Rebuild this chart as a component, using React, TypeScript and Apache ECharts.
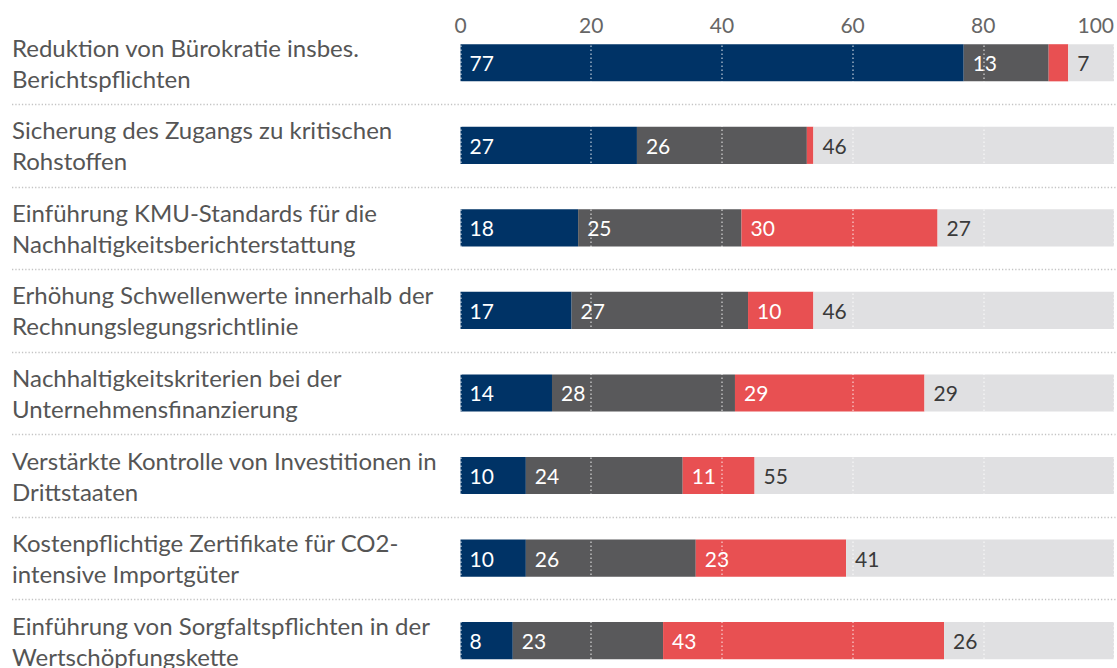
import React, { useEffect, useRef } from "react";
import * as echarts from "echarts";

const categories = [
  "Reduktion von Bürokratie insbes.\nBerichtspflichten",
  "Sicherung des Zugangs zu kritischen\nRohstoffen",
  "Einführung KMU-Standards für die\nNachhaltigkeitsberichterstattung",
  "Erhöhung Schwellenwerte innerhalb der\nRechnungslegungsrichtlinie",
  "Nachhaltigkeitskriterien bei der\nUnternehmensfinanzierung",
  "Verstärkte Kontrolle von Investitionen in\nDrittstaaten",
  "Kostenpflichtige Zertifikate für CO2-\nintensive Importgüter",
  "Einführung von Sorgfaltspflichten in der\nWertschöpfungskette",
];

const seriesA = [77, 27, 18, 17, 14, 10, 10, 8];
const seriesB = [13, 26, 25, 27, 28, 24, 26, 23];
const seriesC = [3, 1, 30, 10, 29, 11, 23, 43];
const seriesD = [7, 46, 27, 46, 29, 55, 41, 26];

const seriesNames = ["Gruppe 1", "Gruppe 2", "Gruppe 3", "Gruppe 4"];
const seriesValues = [seriesA, seriesB, seriesC, seriesD];
const seriesColors = ["#003366", "#59595b", "#e85052", "#e0e0e2"];
const labelColors = ["#ffffff", "#ffffff", "#ffffff", "#3a3a3a"];

const xTicks = { min: 0, max: 100, interval: 20 };

const FONT = "Lato, 'Source Sans Pro', sans-serif";

export default function App() {
  const ref = useRef<HTMLDivElement>(null);

  useEffect(() => {
    if (!ref.current) return;
    const chart = echarts.init(ref.current, undefined, { renderer: "svg" });

    const barSeries = seriesValues.map((vals, i) => ({
      name: seriesNames[i],
      type: "bar",
      stack: "total",
      barWidth: "45%",
      data: vals,
      itemStyle: { color: seriesColors[i] },
      z: 2,
      label: {
        show: true,
        position: "insideLeft",
        distance: 9,
        color: labelColors[i],
        fontFamily: FONT,
        fontSize: 21,
        formatter: (p: any) => (p.value >= 5 ? String(p.value) : ""),
      },
    }));

    const separatorSeries = {
      type: "custom",
      z: 1,
      silent: true,
      clip: false,
      data: categories.slice(0, -1).map((_, i) => [0, i]),
      renderItem: (params: any, api: any) => {
        const idx = api.value(1);
        const c = api.coord([0, idx]);
        const band = api.size([0, 1])[1];
        const y = Math.round(c[1] + band / 2) + 0.5;
        return {
          type: "line",
          shape: { x1: 12, y1: y, x2: 1117, y2: y },
          style: { stroke: "#c4c4c4", lineWidth: 1.3, lineDash: [1.3, 2] },
        };
      },
    };

    chart.setOption({
      animation: false,
      textStyle: { fontFamily: FONT },
      grid: { top: 21.5, left: 460.5, right: 0.5, height: 660.4, containLabel: false },
      xAxis: {
        type: "value",
        position: "top",
        min: xTicks.min,
        max: xTicks.max,
        interval: xTicks.interval,
        z: 5,
        axisLine: { show: false },
        axisTick: { show: false },
        splitLine: {
          show: true,
          lineStyle: { color: "rgba(255,255,255,0.6)", type: [1.5, 2.5], width: 1.5 },
        },
        axisLabel: {
          color: "#666666",
          fontFamily: FONT,
          fontSize: 21,
          margin: -3,
          verticalAlign: "middle",
          alignMaxLabel: "right",
        },
      },
      yAxis: {
        type: "category",
        inverse: true,
        data: categories,
        axisLine: { show: false },
        axisTick: { show: false },
        splitLine: { show: false },
        axisLabel: {
          interval: 0,
          align: "left",
          margin: 448.5,
          color: "#555555",
          fontFamily: FONT,
          fontSize: 24,
          lineHeight: 31,
        },
      },
      series: [...barSeries, separatorSeries],
    });

    return () => chart.dispose();
  }, []);

  return (
    <div
      ref={ref}
      style={{ position: "fixed", top: 0, left: 0, width: 1117, height: 700, background: "#fff" }}
    />
  );
}
